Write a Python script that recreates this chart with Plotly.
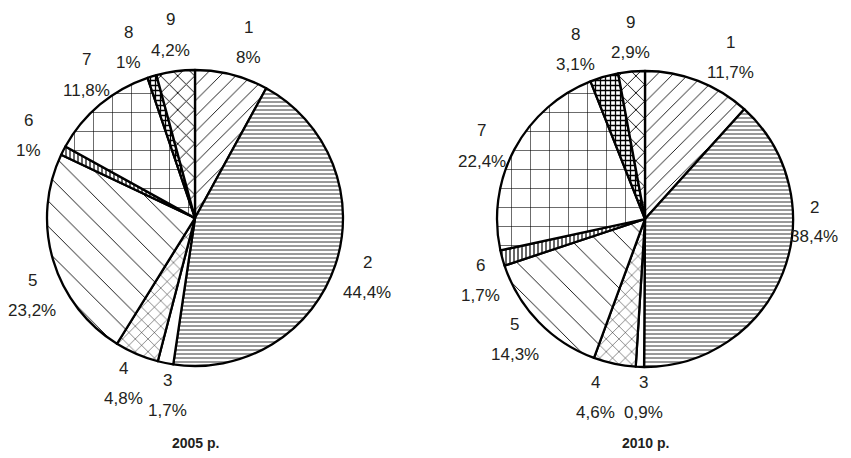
import plotly.graph_objects as go

categories = ["1", "2", "3", "4", "5", "6", "7", "8", "9"]
shares_2005 = [8, 44.4, 1.7, 4.8, 23.2, 1, 11.8, 1, 4.2]
shares_2010 = [11.7, 38.4, 0.9, 4.6, 14.3, 1.7, 22.4, 3.1, 2.9]
titles = ["2005 р.", "2010 р."]

OFF = 8  # page body margin the figure sits inside
W, H = 851 - OFF, 458 - OFF
FONT = "Liberation Sans, Arial, sans-serif"
INK = "#231f20"

# hatch patterns roughly imitating the black & white print
shapes = ["/", "-", "", "x", "\\", "|", "+", "+", "x"]
sizes = [11, 4, 8, 9, 18, 4, 19, 5, 12]
solidity = [0.08, 0.2, 0.1, 0.1, 0.05, 0.3, 0.06, 0.45, 0.15]

# label anchor points (px on the page), one per slice, for each pie
label_pos = [
    [(248, 42), (367, 277), (167, 395), (123, 383), (32, 295),
     (28, 135), (86, 75), (128, 47), (170, 35)],
    [(730, 57), (814, 222), (643, 397), (595, 397), (515, 339),
     (480, 280), (482, 146), (575, 49), (630, 38)],
]
pie_centre = [(195, 218), (645, 219)]
R = 148


def px(x, y):
    return (x - OFF) / W, 1 - (y - OFF) / H


def fmt(v):
    return (f"{v:g}").replace(".", ",") + "%"


def pie(values, cx, cy):
    x0, y0 = px(cx - R, cy + R)
    x1, y1 = px(cx + R, cy - R)
    return go.Pie(
        labels=categories,
        values=values,
        textinfo="none",
        sort=False,
        direction="clockwise",
        rotation=0,
        showlegend=False,
        domain=dict(x=[x0, x1], y=[y0, y1]),
        marker=dict(
            colors=["white"] * 9,
            line=dict(color="black", width=2.3),
            pattern=dict(shape=shapes, size=sizes, solidity=solidity,
                         fgcolor="black", fgopacity=1, bgcolor="white",
                         fillmode="overlay"),
        ),
        hoverinfo="label+percent",
    )


def label(fig, x, y, txt, size):
    ax, ay = px(x, y)
    fig.add_annotation(x=ax, y=ay, xref="paper", yref="paper", text=txt,
                       showarrow=False, xanchor="center", yanchor="middle",
                       font=dict(family=FONT, size=size, color=INK))


fig = go.Figure()
for values, (cx, cy), pos in zip([shares_2005, shares_2010], pie_centre, label_pos):
    fig.add_trace(pie(values, cx, cy))
    for c, v, (x, y) in zip(categories, values, pos):
        label(fig, x, y - 15, c, 17)
        label(fig, x, y + 15, fmt(v), 17)

for (cx, cy), t in zip(pie_centre, titles):
    label(fig, cx, 443, f"<b>{t}</b>", 14)

fig.update_layout(
    width=W, height=H,
    margin=dict(l=0, r=0, t=0, b=0),
    paper_bgcolor="white",
    plot_bgcolor="white",
)
fig.write_html("out.html")
